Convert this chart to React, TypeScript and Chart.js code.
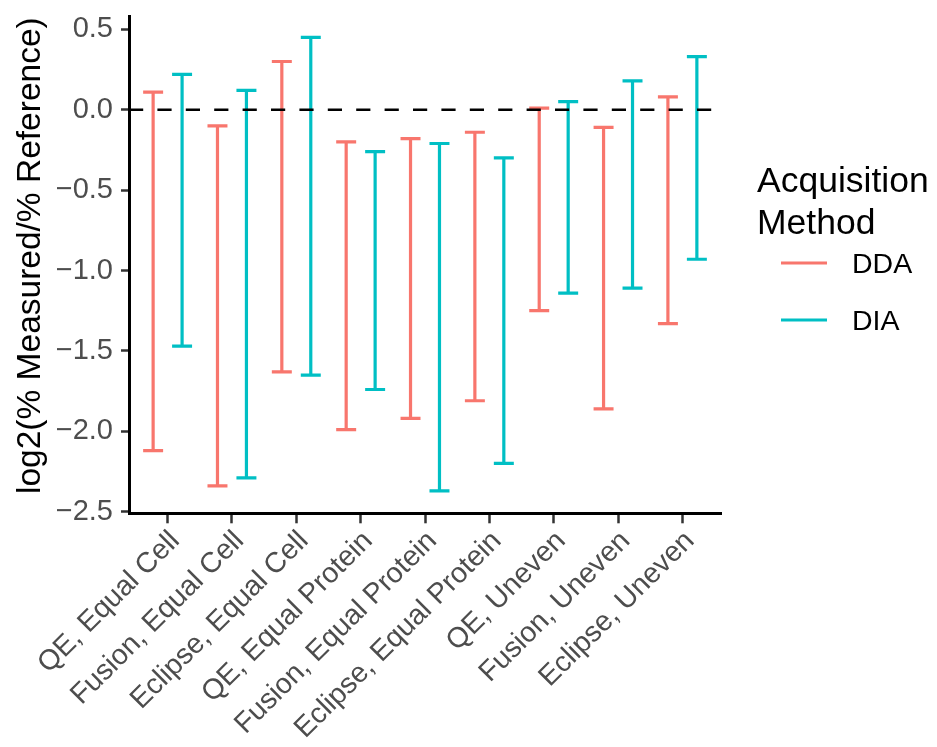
import React, { useEffect, useRef } from "react";
import { Chart, registerables } from "chart.js";

Chart.register(...registerables);

// Sample groups (instrument, loading scheme)
const categories = [
  "QE, Equal Cell",
  "Fusion, Equal Cell",
  "Eclipse, Equal Cell",
  "QE, Equal Protein",
  "Fusion, Equal Protein",
  "Eclipse, Equal Protein",
  "QE, Uneven",
  "Fusion, Uneven",
  "Eclipse, Uneven",
];

// Range of log2(% measured / % reference) per group
const ddaLow = [-2.12, -2.34, -1.63, -1.99, -1.92, -1.81, -1.25, -1.86, -1.33];
const ddaHigh = [0.11, -0.1, 0.3, -0.2, -0.18, -0.14, 0.01, -0.11, 0.08];
const diaLow = [-1.47, -2.29, -1.65, -1.74, -2.37, -2.2, -1.14, -1.11, -0.93];
const diaHigh = [0.22, 0.12, 0.45, -0.26, -0.21, -0.3, 0.05, 0.18, 0.33];

const yTicks = [-2.5, -2.0, -1.5, -1.0, -0.5, 0.0, 0.5];
const seriesNames = ["DDA", "DIA"];
const seriesColors = ["#F8766D", "#00BFC4"];
const legendTitle = ["Acquisition", "Method"];
const yTitle = "log2(% Measured/% Reference)";

const FONT = '"Liberation Sans", Arial, Helvetica, sans-serif';

const errorBars = {
  id: "errorBars",
  afterDatasetsDraw(chart: any) {
    const { ctx } = chart;
    chart.data.datasets.forEach((ds: any, di: number) => {
      const meta = chart.getDatasetMeta(di);
      ctx.save();
      ctx.strokeStyle = ds.errColor;
      ctx.lineWidth = 3.2;
      ctx.lineCap = "butt";
      meta.data.forEach((el: any) => {
        const { x, y, base, width } = el.getProps(["x", "y", "base", "width"], true);
        const half = width / 2;
        ctx.beginPath();
        ctx.moveTo(x, y);
        ctx.lineTo(x, base);
        ctx.moveTo(x - half, y);
        ctx.lineTo(x + half, y);
        ctx.moveTo(x - half, base);
        ctx.lineTo(x + half, base);
        ctx.stroke();
      });
      ctx.restore();
    });

    // reference line at zero
    const ys = chart.scales.y;
    const area = chart.chartArea;
    const y0 = ys.getPixelForValue(0);
    ctx.save();
    ctx.strokeStyle = "#000";
    ctx.lineWidth = 2.7;
    ctx.setLineDash([14.2, 14.2]);
    ctx.beginPath();
    ctx.moveTo(area.left, y0);
    ctx.lineTo(area.right, y0);
    ctx.stroke();
    ctx.restore();
  },
  afterDraw(chart: any) {
    const { ctx } = chart;
    const area = chart.chartArea;
    ctx.save();
    // y axis title
    ctx.fillStyle = "#000";
    ctx.font = `33.5px ${FONT}`;
    ctx.textAlign = "center";
    ctx.textBaseline = "alphabetic";
    ctx.translate(32, (area.top + area.bottom) / 2 - 9);
    ctx.rotate(-Math.PI / 2);
    ctx.fillText(yTitle, 0, 0);
    ctx.restore();

    // legend
    ctx.save();
    ctx.fillStyle = "#000";
    ctx.font = `35.5px ${FONT}`;
    ctx.textAlign = "left";
    ctx.textBaseline = "alphabetic";
    ctx.fillText(legendTitle[0], 749, 184);
    ctx.fillText(legendTitle[1], 749, 226);
    ctx.font = `28.5px ${FONT}`;
    ctx.textBaseline = "middle";
    const rows = [255, 312];
    seriesNames.forEach((name, i) => {
      ctx.strokeStyle = seriesColors[i];
      ctx.lineWidth = 3.2;
      ctx.beginPath();
      ctx.moveTo(773, rows[i]);
      ctx.lineTo(819, rows[i]);
      ctx.stroke();
      ctx.fillStyle = "#000";
      ctx.fillText(name, 844, rows[i] + 2);
    });
    ctx.restore();
  },
};

export default function App() {
  const canvasRef = useRef<HTMLCanvasElement | null>(null);

  useEffect(() => {
    const canvas = canvasRef.current;
    if (!canvas) return;
    const lows = [ddaLow, diaLow];
    const highs = [ddaHigh, diaHigh];
    const chart = new Chart(canvas, {
      type: "bar",
      data: {
        datasets: seriesNames.map((name, s) => ({
          label: name,
          data: categories.map((_, i) => ({ x: i + 1, y: [lows[s][i], highs[s][i]] })),
          backgroundColor: "rgba(0,0,0,0)",
          borderWidth: 0,
          categoryPercentage: 0.9,
          barPercentage: 0.69,
          errColor: seriesColors[s],
        })) as any,
      },
      options: {
        animation: false,
        responsive: false,
        events: [],
        layout: { padding: { top: 8, right: 208, left: 0, bottom: 0 } },
        plugins: {
          legend: { display: false },
          tooltip: { enabled: false },
        },
        scales: {
          x: {
            type: "linear",
            min: 0.4,
            max: 9.6,
            offset: false,
            afterBuildTicks: (scale: any) => {
              scale.ticks = categories.map((_, i) => ({ value: i + 1 }));
            },
            afterFit: (scale: any) => {
              scale.height = 225.7;
              scale.paddingLeft = 0;
              scale.paddingRight = 0;
            },
            grid: {
              offset: false,
              drawOnChartArea: false,
              drawTicks: true,
              tickLength: 10,
              tickColor: "#333333",
              tickWidth: 2.5,
            },
            border: { display: true, color: "#000", width: 3 },
            ticks: {
              autoSkip: false,
              minRotation: 45,
              maxRotation: 45,
              padding: 1,
              labelOffset: 7.5,
              color: "#4D4D4D",
              font: { family: FONT, size: 28.5 },
              callback: (v: any) => categories[Math.round(Number(v)) - 1] ?? "",
            },
          },
          y: {
            type: "linear",
            min: -2.51,
            max: 0.583,
            afterBuildTicks: (scale: any) => {
              scale.ticks = yTicks.map((v) => ({ value: v }));
            },
            afterFit: (scale: any) => {
              scale.width = 121;
              scale.paddingTop = 0;
              scale.paddingBottom = 0;
            },
            grid: {
              drawOnChartArea: false,
              drawTicks: true,
              tickLength: 8,
              tickColor: "#333333",
              tickWidth: 2.5,
            },
            border: { display: true, color: "#000", width: 3 },
            ticks: {
              padding: 8,
              color: "#4D4D4D",
              font: { family: FONT, size: 29 },
              callback: (v: any) => Number(v).toFixed(1).replace("-", "\u2212"),
            },
          },
        },
      } as any,
      plugins: [errorBars],
    });
    return () => chart.destroy();
  }, []);

  return (
    <div style={{ width: 921, height: 731, background: "#fff" }}>
      <canvas ref={canvasRef} width={921} height={731} style={{ display: "block" }} />
    </div>
  );
}
